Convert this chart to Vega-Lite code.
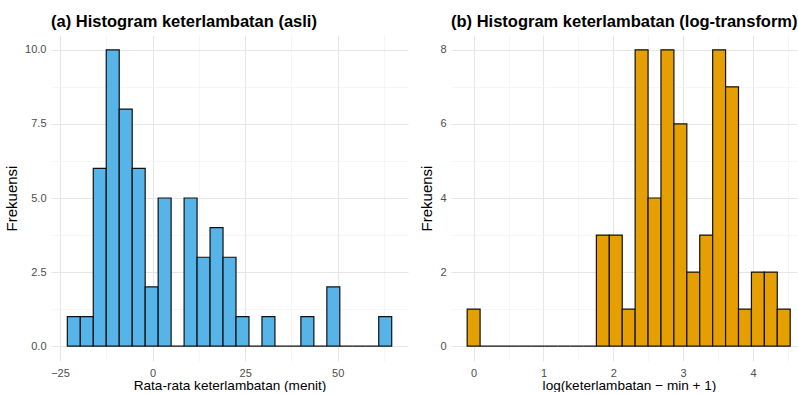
{
  "$schema": "https://vega.github.io/schema/vega-lite/v6.json",
  "padding": {"left": 4, "top": 13, "right": 0, "bottom": 0},
  "background": "white",
  "bounds": "flush",
  "spacing": 43,
  "datasets": {
    "asli": [
      {"start": -23.02, "end": -19.516, "count": 1},
      {"start": -19.516, "end": -16.012, "count": 1},
      {"start": -16.012, "end": -12.508, "count": 6},
      {"start": -12.508, "end": -9.004, "count": 10},
      {"start": -9.004, "end": -5.5, "count": 8},
      {"start": -5.5, "end": -1.996, "count": 6},
      {"start": -1.996, "end": 1.508, "count": 2},
      {"start": 1.508, "end": 5.012, "count": 5},
      {"start": 5.012, "end": 8.516, "count": 0},
      {"start": 8.516, "end": 12.02, "count": 5},
      {"start": 12.02, "end": 15.524, "count": 3},
      {"start": 15.524, "end": 19.028, "count": 4},
      {"start": 19.028, "end": 22.532, "count": 3},
      {"start": 22.532, "end": 26.036, "count": 1},
      {"start": 26.036, "end": 29.54, "count": 0},
      {"start": 29.54, "end": 33.044, "count": 1},
      {"start": 33.044, "end": 36.548, "count": 0},
      {"start": 36.548, "end": 40.052, "count": 0},
      {"start": 40.052, "end": 43.556, "count": 1},
      {"start": 43.556, "end": 47.06, "count": 0},
      {"start": 47.06, "end": 50.564, "count": 2},
      {"start": 50.564, "end": 54.068, "count": 0},
      {"start": 54.068, "end": 57.572, "count": 0},
      {"start": 57.572, "end": 61.076, "count": 0},
      {"start": 61.076, "end": 64.58, "count": 1}
    ],
    "logt": [
      {"start": -0.0925, "end": 0.0925, "count": 1},
      {"start": 0.0925, "end": 0.2775, "count": 0},
      {"start": 0.2775, "end": 0.4625, "count": 0},
      {"start": 0.4625, "end": 0.6475, "count": 0},
      {"start": 0.6475, "end": 0.8325, "count": 0},
      {"start": 0.8325, "end": 1.0175, "count": 0},
      {"start": 1.0175, "end": 1.2025, "count": 0},
      {"start": 1.2025, "end": 1.3875, "count": 0},
      {"start": 1.3875, "end": 1.5725, "count": 0},
      {"start": 1.5725, "end": 1.7575, "count": 0},
      {"start": 1.7575, "end": 1.9425, "count": 3},
      {"start": 1.9425, "end": 2.1275, "count": 3},
      {"start": 2.1275, "end": 2.3125, "count": 1},
      {"start": 2.3125, "end": 2.4975, "count": 8},
      {"start": 2.4975, "end": 2.6825, "count": 4},
      {"start": 2.6825, "end": 2.8675, "count": 8},
      {"start": 2.8675, "end": 3.0525, "count": 6},
      {"start": 3.0525, "end": 3.2375, "count": 2},
      {"start": 3.2375, "end": 3.4225, "count": 3},
      {"start": 3.4225, "end": 3.6075, "count": 8},
      {"start": 3.6075, "end": 3.7925, "count": 7},
      {"start": 3.7925, "end": 3.9775, "count": 1},
      {"start": 3.9775, "end": 4.1625, "count": 2},
      {"start": 4.1625, "end": 4.3475, "count": 2},
      {"start": 4.3475, "end": 4.5325, "count": 1}
    ]
  },
  "hconcat": [
    {
      "title": "(a) Histogram keterlambatan (asli)",
      "width": 357,
      "height": 326,
      "data": {"name": "asli"},
      "mark": {"type": "rect", "fill": "#56B4E9", "stroke": "#111111", "strokeWidth": 1.2},
      "encoding": {
        "x": {
          "field": "start", "type": "quantitative",
          "scale": {"domain": [-27.43, 68.98], "nice": false, "zero": false},
          "axis": {
            "title": "Rata-rata keterlambatan (menit)",
            "values": [-25, -12.5, 0, 12.5, 25, 37.5, 50, 62.5],
            "labelExpr": "datum.value % 25 === 0 ? format(datum.value, 'd') : ''",
            "gridWidth": {"condition": {"test": "datum.value % 25 !== 0", "value": 0.6}, "value": 1.1},
            "gridColor": {"condition": {"test": "datum.value % 25 !== 0", "value": "#f0f0f0"}, "value": "#e6e6e6"}
          }
        },
        "x2": {"field": "end"},
        "y": {
          "field": "count", "type": "quantitative",
          "scale": {"domain": [-0.5, 10.5], "nice": false, "zero": false},
          "axis": {
            "title": "Frekuensi",
            "values": [0, 1.25, 2.5, 3.75, 5, 6.25, 7.5, 8.75, 10],
            "labelExpr": "datum.value % 2.5 === 0 ? format(datum.value, '.1f') : ''",
            "gridWidth": {"condition": {"test": "datum.value % 2.5 !== 0", "value": 0.6}, "value": 1.1},
            "gridColor": {"condition": {"test": "datum.value % 2.5 !== 0", "value": "#f0f0f0"}, "value": "#e6e6e6"}
          }
        },
        "y2": {"datum": 0}
      }
    },
    {
      "title": "(b) Histogram keterlambatan (log-transform)",
      "width": 346,
      "height": 326,
      "data": {"name": "logt"},
      "mark": {"type": "rect", "fill": "#E69F00", "stroke": "#111111", "strokeWidth": 1.2},
      "encoding": {
        "x": {
          "field": "start", "type": "quantitative",
          "scale": {"domain": [-0.324, 4.63], "nice": false, "zero": false},
          "axis": {
            "title": "log(keterlambatan − min + 1)",
            "titleX": 178,
            "values": [0, 0.5, 1, 1.5, 2, 2.5, 3, 3.5, 4, 4.5],
            "labelExpr": "datum.value % 1 === 0 ? format(datum.value, 'd') : ''",
            "gridWidth": {"condition": {"test": "datum.value % 1 !== 0", "value": 0.6}, "value": 1.1},
            "gridColor": {"condition": {"test": "datum.value % 1 !== 0", "value": "#f0f0f0"}, "value": "#e6e6e6"}
          }
        },
        "x2": {"field": "end"},
        "y": {
          "field": "count", "type": "quantitative",
          "scale": {"domain": [-0.4, 8.4], "nice": false, "zero": false},
          "axis": {
            "title": "Frekuensi",
            "values": [0, 1, 2, 3, 4, 5, 6, 7, 8],
            "labelExpr": "datum.value % 2 === 0 ? format(datum.value, 'd') : ''",
            "gridWidth": {"condition": {"test": "datum.value % 2 !== 0", "value": 0.6}, "value": 1.1},
            "gridColor": {"condition": {"test": "datum.value % 2 !== 0", "value": "#f0f0f0"}, "value": "#e6e6e6"}
          }
        },
        "y2": {"datum": 0}
      }
    }
  ],
  "config": {
    "font": "Liberation Sans",
    "view": {"stroke": null},
    "axis": {
      "domain": false,
      "ticks": false,
      "tickSize": 0,
      "labelPadding": 6,
      "labelFontSize": 11,
      "labelColor": "#4d4d4d",
      "labelOverlap": false,
      "labelFlush": false,
      "titleFontWeight": "normal",
      "titleColor": "#000000"
    },
    "axisX": {"titleFontSize": 13.6, "titlePadding": 0},
    "axisY": {"labelPadding": 5, "titlePadding": 5, "titleFontSize": 15},
    "title": {
      "anchor": "start",
      "frame": "group",
      "fontSize": 16.5,
      "fontWeight": "bold",
      "color": "#000000",
      "offset": 5
    }
  }
}
